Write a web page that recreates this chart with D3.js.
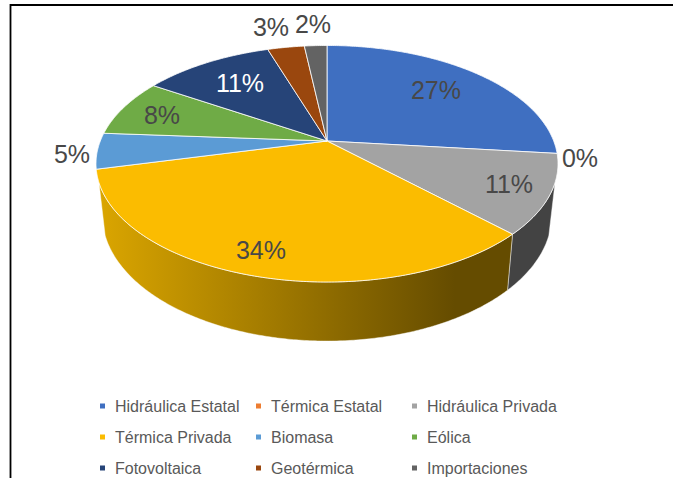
<!DOCTYPE html>
<html lang="es">
<head>
<meta charset="utf-8"/>
<title>Matriz de generación</title>
<script src="https://cdn.jsdelivr.net/npm/d3@7"></script>
<style>
  html, body { margin: 0; padding: 0; background: #fff; overflow: hidden; }
  svg { display: block; font-family: "Liberation Sans", Arial, sans-serif; }
</style>
</head>
<body>
<svg id="chart"></svg>
<script>
const categories = ['Hidráulica Estatal','Térmica Estatal','Hidráulica Privada','Térmica Privada','Biomasa','Eólica','Fotovoltaica','Geotérmica','Importaciones']
const shares = [26.7, 0, 10.8, 33.7, 4.9, 7.9, 11, 3.1, 1.9]
const colors = ['#3f6fc1','#ed7d31','#a3a3a3','#fbbc00','#5b9bd5','#6fab46','#264478','#9a470e','#636363']
const sideColors = ['#25426f','#8f4b1d','#434343','#634a00','#375d80','#43672a','#172a48','#5e2b08','#3c3c3c']

const width = 673
const height = 478

// where each percentage sits, [x, y] of the text centre
const labelAt = [[436,90],[580,158],[509,184],[261,250],[72,154],[162,115],[240,83],[271,27],[313,24]]
const labelFill = ['#484848','#484848','#484848','#484848','#484848','#484848','#ffffff','#484848','#484848']

const svg = d3.select('#chart').attr('width',width).attr('height',height)

svg.append('rect').attr('width',width).attr('height',height).attr('fill','#fff')

// the frame of the pasted picture, no right or bottom edge in view
svg.append('path')
  .attr('d',`M${width},5 H10.5 V${height}`)
  .attr('fill','none')
  .attr('stroke','#000')
  .attr('stroke-width',1.8)

// tilted disc: a unit circle through a small perspective division
const cx = 327
const cy = 141
const ax = 226.7
const ay = 113.9
const k = 0.1923

function topPoint(a){
  const u = Math.sin(a)
  const v = -Math.cos(a)
  const w = 1 - k*v
  return [cx + ax*u/w, cy + ay*v/w]
}

// the rim underneath is a bit narrower and further down
function bottomPoint(a){
  const p = topPoint(a)
  return [cx + (p[0]-cx)*0.973, cy + 50 + (p[1]-cy)*1.064]
}

const pie = d3.pie().sort(null).value(d => d)
const arcs = pie(shares)
const line = d3.line()

const rad = d3.scaleLinear().domain([0,180]).range([0,Math.PI])
const rimStart = rad(110)
const rimEnd = rad(250)

function sweep(a0,a1,f){
  const n = Math.max(2,Math.ceil((a1-a0)/0.01))
  return d3.range(n+1).map(i => f(a0 + (a1-a0)*i/n))
}

const defs = svg.append('defs')
const grad = defs.append('linearGradient')
  .attr('id','yellowSide')
  .attr('gradientUnits','userSpaceOnUse')
  .attr('x1',97).attr('x2',455).attr('y1',0).attr('y2',0)
grad.append('stop').attr('offset',0).attr('stop-color','#dba600')
grad.append('stop').attr('offset',1).attr('stop-color','#654c00')

const rim = svg.append('g')
arcs.forEach((d,i) => {
  const a0 = Math.max(d.startAngle,rimStart)
  const a1 = Math.min(d.endAngle,rimEnd)
  if(a1 <= a0) return
  const pts = sweep(a0,a1,topPoint).concat(sweep(a0,a1,bottomPoint).reverse())
  rim.append('path')
    .attr('d',line(pts) + 'Z')
    .attr('fill',categories[i] === 'Térmica Privada' ? 'url(#yellowSide)' : sideColors[i])
    .attr('stroke','#fff')
    .attr('stroke-opacity',0.55)
    .attr('stroke-width',0.8)
})

const disc = svg.append('g')
arcs.forEach((d,i) => {
  if(d.endAngle <= d.startAngle) return
  const pts = [[cx,cy]].concat(sweep(d.startAngle,d.endAngle,topPoint))
  disc.append('path')
    .attr('d',line(pts) + 'Z')
    .attr('fill',colors[i])
    .attr('stroke','#fff')
    .attr('stroke-opacity',0.8)
    .attr('stroke-width',1)
    .attr('stroke-linejoin','round')
})

svg.append('g')
  .selectAll('text')
  .data(shares)
  .enter()
  .append('text')
  .attr('x',(d,i) => labelAt[i][0])
  .attr('y',(d,i) => labelAt[i][1])
  .attr('dy','0.36em')
  .attr('text-anchor','middle')
  .attr('font-size',25)
  .attr('fill',(d,i) => labelFill[i])
  .text(d => Math.round(d) + '%')

// legend, three columns by three rows
const legendX = d3.scalePoint().domain([0,1,2]).range([115,427])
const legendY = d3.scalePoint().domain([0,1,2]).range([406,468])

const legend = svg.append('g')
  .selectAll('g')
  .data(categories)
  .enter()
  .append('g')
  .attr('transform',(d,i) => `translate(${legendX(i%3)},${legendY(Math.floor(i/3))})`)

legend.append('rect')
  .attr('x',-15)
  .attr('y',-2.5)
  .attr('width',5)
  .attr('height',5)
  .attr('fill',(d,i) => colors[i])

legend.append('text')
  .attr('dy','0.35em')
  .attr('font-size',16)
  .attr('fill','#595959')
  .text(d => d)
</script>
</body>
</html>
